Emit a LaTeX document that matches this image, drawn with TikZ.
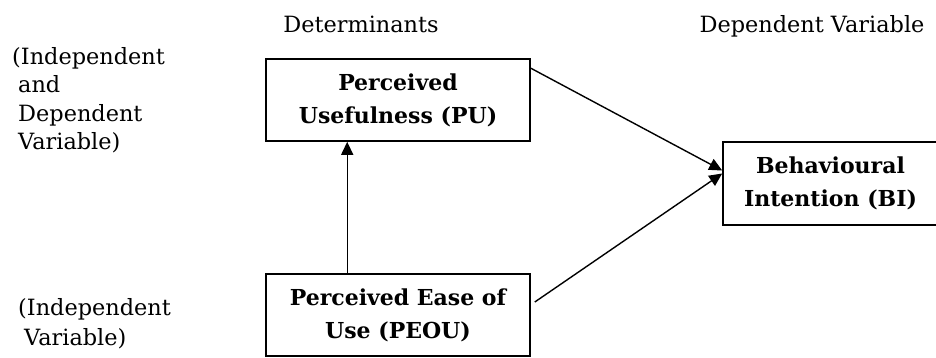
\documentclass[tikz,border=0pt]{standalone}
\usepackage{fontspec}
\setmainfont{DejaVu Serif}
\usetikzlibrary{arrows.meta}
\begin{document}
\begin{tikzpicture}[x=1pt,y=-1pt,
  lbl/.style={font=\fontsize{22.4}{29}\selectfont, inner sep=0pt, anchor=base west},
  head/.style={font=\fontsize{22.4}{29}\selectfont, inner sep=0pt, anchor=base},
  boxnode/.style={draw, line width=1.6pt, inner sep=0pt, align=center,
    font=\fontsize{22}{33}\selectfont\bfseries},
  conn/.style={line width=1.4pt, -{Triangle[length=13pt,width=12pt]}}]
\useasboundingbox (0,0) rectangle (936,358);
% headings
\node[head] (det) at (361,33) {Determinants};
\node[head] (dep) at (812,33) {Dependent Variable};
% left labels
\node[lbl] (l1) at (12,65) {(Independent};
\node[lbl] (l2) at (18,93) {and};
\node[lbl] (l3) at (18,122) {Dependent};
\node[lbl] (l4) at (18,150) {Variable)};
\node[lbl] (l5) at (18,315) {(Independent};
\node[lbl] (l6) at (24,345) {Variable)};
% boxes
\node[boxnode, minimum width=264pt, minimum height=82pt] (pu) at (398,100)
  {Perceived\\Usefulness (PU)};
\node[boxnode, minimum width=264pt, minimum height=82pt] (peou) at (398,315)
  {Perceived Ease of\\Use (PEOU)};
\node[boxnode, minimum width=215pt, minimum height=83pt] (bi) at (830.5,183.5)
  {Behavioural\\Intention (BI)};
% connectors
\draw[conn] ([xshift=82pt]peou.north west) -- ([xshift=82pt]pu.south west);
\draw[conn] ([yshift=-10pt]pu.north east) -- ([yshift=13pt]bi.west);
\draw[conn] ([xshift=4pt,yshift=13pt]peou.east) -- ([yshift=10pt]bi.west);
\end{tikzpicture}
\end{document}
